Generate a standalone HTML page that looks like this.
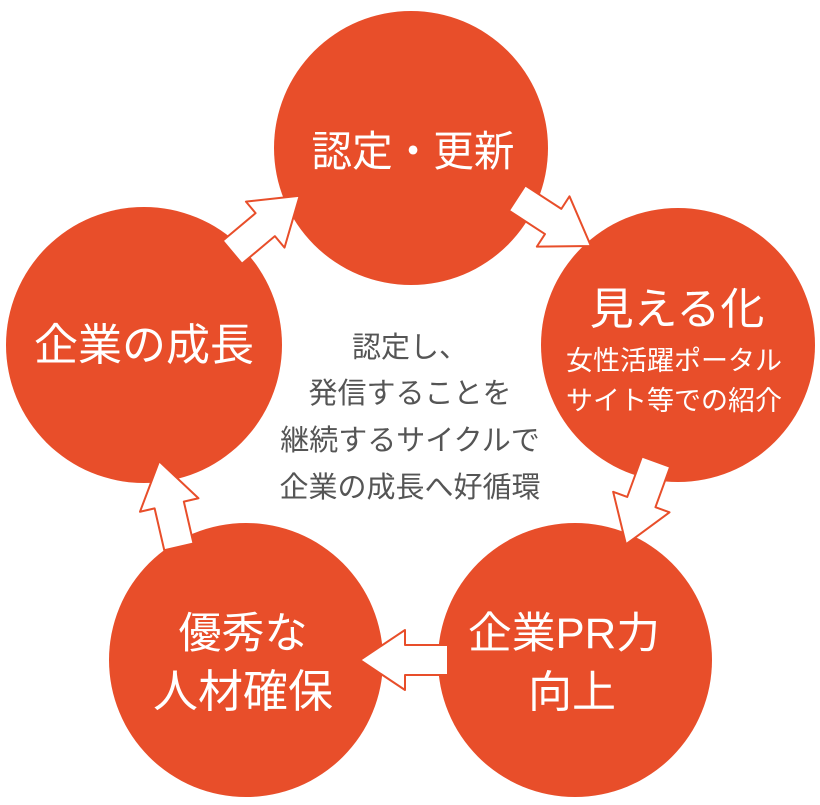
<!DOCTYPE html>
<html><head><meta charset="utf-8"><style>
html,body{margin:0;padding:0;background:#fff;}
svg{display:block;}
text{font-family:"Liberation Sans","Noto Sans CJK JP",sans-serif;}
</style></head><body>
<svg width="820" height="805" viewBox="0 0 820 805" xmlns="http://www.w3.org/2000/svg">
<defs>
<path id="arr" d="M-44,-15 L-1,-15 L-1,-30 L44,0 L-1,30 L-1,15 L-44,15 Z" fill="#fff" stroke="#e84e2a" stroke-width="2" stroke-linejoin="round"/>
</defs>
<g fill="#e84e2a">
<circle cx="411" cy="148" r="137"/>
<circle cx="678" cy="345" r="137"/>
<circle cx="575" cy="660" r="137"/>
<circle cx="246" cy="660" r="137"/>
<circle cx="144" cy="345" r="138"/>
</g>
<use href="#arr" transform="translate(554,222) rotate(33)"/>
<use href="#arr" transform="translate(641,503) rotate(110)"/>
<use href="#arr" transform="translate(404,660) rotate(180)"/>
<use href="#arr" transform="translate(169,504) rotate(-103)"/>
<use href="#arr" transform="translate(266,224) rotate(-40)"/>
<g fill="#fff" text-anchor="middle">
<text x="413" y="166" font-size="42" textLength="203" lengthAdjust="spacingAndGlyphs">認定・更新</text>
<text x="677" y="324" font-size="44">見える化</text>
<text x="674" y="370" font-size="27">女性活躍ポータル</text>
<text x="674" y="410" font-size="27">サイト等での紹介</text>
<text x="144" y="360" font-size="44">企業の成長</text>
<text x="243" y="648" font-size="43">優秀な</text>
<text x="243" y="707" font-size="45">人材確保</text>
<text x="564" y="648" font-size="43" textLength="192" lengthAdjust="spacingAndGlyphs">企業PR力</text>
<text x="572" y="707" font-size="44">向上</text>
</g>
<g fill="#555" text-anchor="middle" font-size="29">
<text x="410" y="357">認定し、</text>
<text x="410" y="403">発信することを</text>
<text x="410" y="450">継続するサイクルで</text>
<text x="410" y="497">企業の成長へ好循環</text>
</g>
</svg>
</body></html>
